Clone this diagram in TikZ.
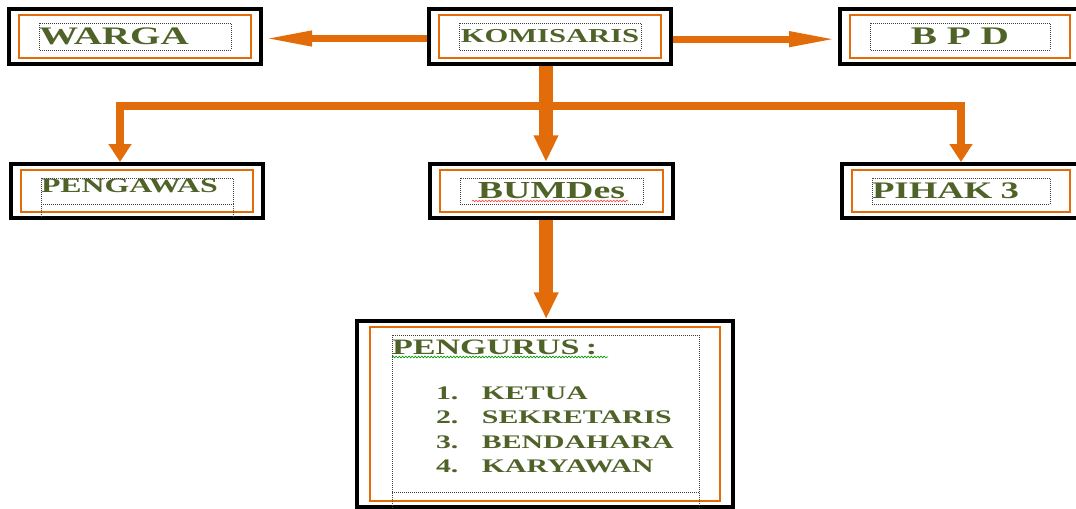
\documentclass[tikz,border=0pt]{standalone}
\usepackage{fontspec}
\usepackage{tikz}
\usetikzlibrary{arrows.meta,decorations.pathmorphing}
\newfontfamily\orgfont[FakeStretch=1.55]{Liberation Serif}
\definecolor{org_orange}{HTML}{E36C0A}
\definecolor{org_green}{HTML}{4F6228}

\begin{document}
\begin{tikzpicture}[
                x=0.75pt,
                y=-0.75pt,
                unitbox/.style={draw=black, line width=3pt, fill=white, inner xsep=22.5pt, inner ysep=0pt,
                    text=org_green, font=\orgfont\bfseries\fontsize{#1}{#1}\selectfont},
                orgframe/.style={draw=org_orange, line width=1.9pt},
                dotframe/.style={draw=black!75, line width=0.5pt, densely dotted},
                sideflow/.style={draw=org_orange, line width=5.25pt, -{Triangle[length=36.75pt, width=10.5pt]}},
                mainflow/.style={draw=org_orange, line width=10.5pt, -{Triangle[length=20pt, width=17.25pt]}},
                branch/.style={draw=org_orange, line width=6.5pt, -{Triangle[length=13.5pt, width=16.5pt]}},
                wavy/.style={decorate, decoration={snake, amplitude=0.6pt, segment length=2.4pt}, line width=0.5pt},
            ]
            \useasboundingbox (0,0) rectangle (1076,508);
            \clip (0,0) rectangle (1076,508);

            % Top row
            \node[unitbox=18.9, minimum width=189pt, minimum height=41.25pt, text width=144pt, align=left] (warga) at (135,36.5) {WARGA};
            \node[unitbox=14.8, minimum width=181.5pt, minimum height=41.25pt] (komisaris) at (550,36.5) {KOMISARIS};
            \node[unitbox=19, minimum width=180pt, minimum height=41.25pt] (bpd) at (960,36.5) {B P D};

            % Middle row
            \node[unitbox=15.4, minimum width=189pt, minimum height=40.5pt, text width=144pt, align=left, text depth=7.8pt] (pengawas) at (137,191) {PENGAWAS};
            \node[unitbox=18.3, minimum width=182.25pt, minimum height=40.5pt] (bumdes) at (551.5,191) {BUMDes};
            \node[unitbox=17.8, minimum width=178.5pt, minimum height=40.5pt, text width=133.5pt, align=left] (pihak) at (961,191) {PIHAK 3};

            % Bottom box
            \node[unitbox=14.4, font=\orgfont\bfseries\fontsize{14.4}{18.2}\selectfont, inner xsep=26.25pt, minimum width=282pt, minimum height=139.5pt,
                  text width=229.5pt, align=left, text depth=100pt] (pengurus) at (545,414) {
                {\fontsize{16.5}{18.2}\selectfont PENGURUS :}\\[15.5pt]
                \hspace*{33pt}\makebox[34.5pt][l]{1.}KETUA\\
                \hspace*{33pt}\makebox[34.5pt][l]{2.}SEKRETARIS\\
                \hspace*{33pt}\makebox[34.5pt][l]{3.}BENDAHARA\\
                \hspace*{33pt}\makebox[34.5pt][l]{4.}KARYAWAN};

            % Orange frames and text box outlines
            \foreach \n in {warga, komisaris, bpd, pengawas, bumdes, pihak} {
                \draw[orgframe] ([shift={(12,8)}]\n.north west) rectangle ([shift={(-12,-8)}]\n.south east);
                \draw[dotframe] ([shift={(32,16)}]\n.north west) rectangle ([shift={(-32,-16)}]\n.south east);
            }
            \draw[dotframe] ([shift={(32,-16)}]pengawas.south west) -- ++(0,13);
            \draw[dotframe] ([shift={(-32,-16)}]pengawas.south east) -- ++(0,13);
            \draw[orgframe] ([shift={(15,8)}]pengurus.north west) rectangle ([shift={(-15,-8)}]pengurus.south east);
            \draw[dotframe] ([shift={(37,16)}]pengurus.north west) rectangle ([shift={(-36,5)}]pengurus.south east);
            \draw[dotframe] ([shift={(37,-17)}]pengurus.south west) -- ([shift={(-36,-17)}]pengurus.south east);

            % Spelling marks
            \draw[wavy, red!70] (472,201) -- (628,201);
            \draw[wavy, green!60!black] (392,357) -- (608,357);

            % Arrows from KOMISARIS
            \draw[sideflow] ([yshift=-1.5pt]komisaris.west) -- ([yshift=-1.5pt]warga.east);
            \draw[sideflow] ([yshift=-2pt]komisaris.east) -- ([yshift=-2pt]bpd.west);

            \coordinate (split) at (546,106);
            \coordinate (leftturn) at (120,106);
            \coordinate (rightturn) at (961,106);
            \draw[branch] (split) -- (leftturn) -- (leftturn |- pengawas.north);
            \draw[branch] (split) -- (rightturn) -- (rightturn |- pihak.north);

            \draw[mainflow] ([xshift=-3pt]komisaris.south) -- ([xshift=-3pt]komisaris.south |- bumdes.north);
            \draw[mainflow] ([xshift=-4pt]bumdes.south) -- ([xshift=-4pt]bumdes.south |- pengurus.north);
        \end{tikzpicture}
\end{document}
